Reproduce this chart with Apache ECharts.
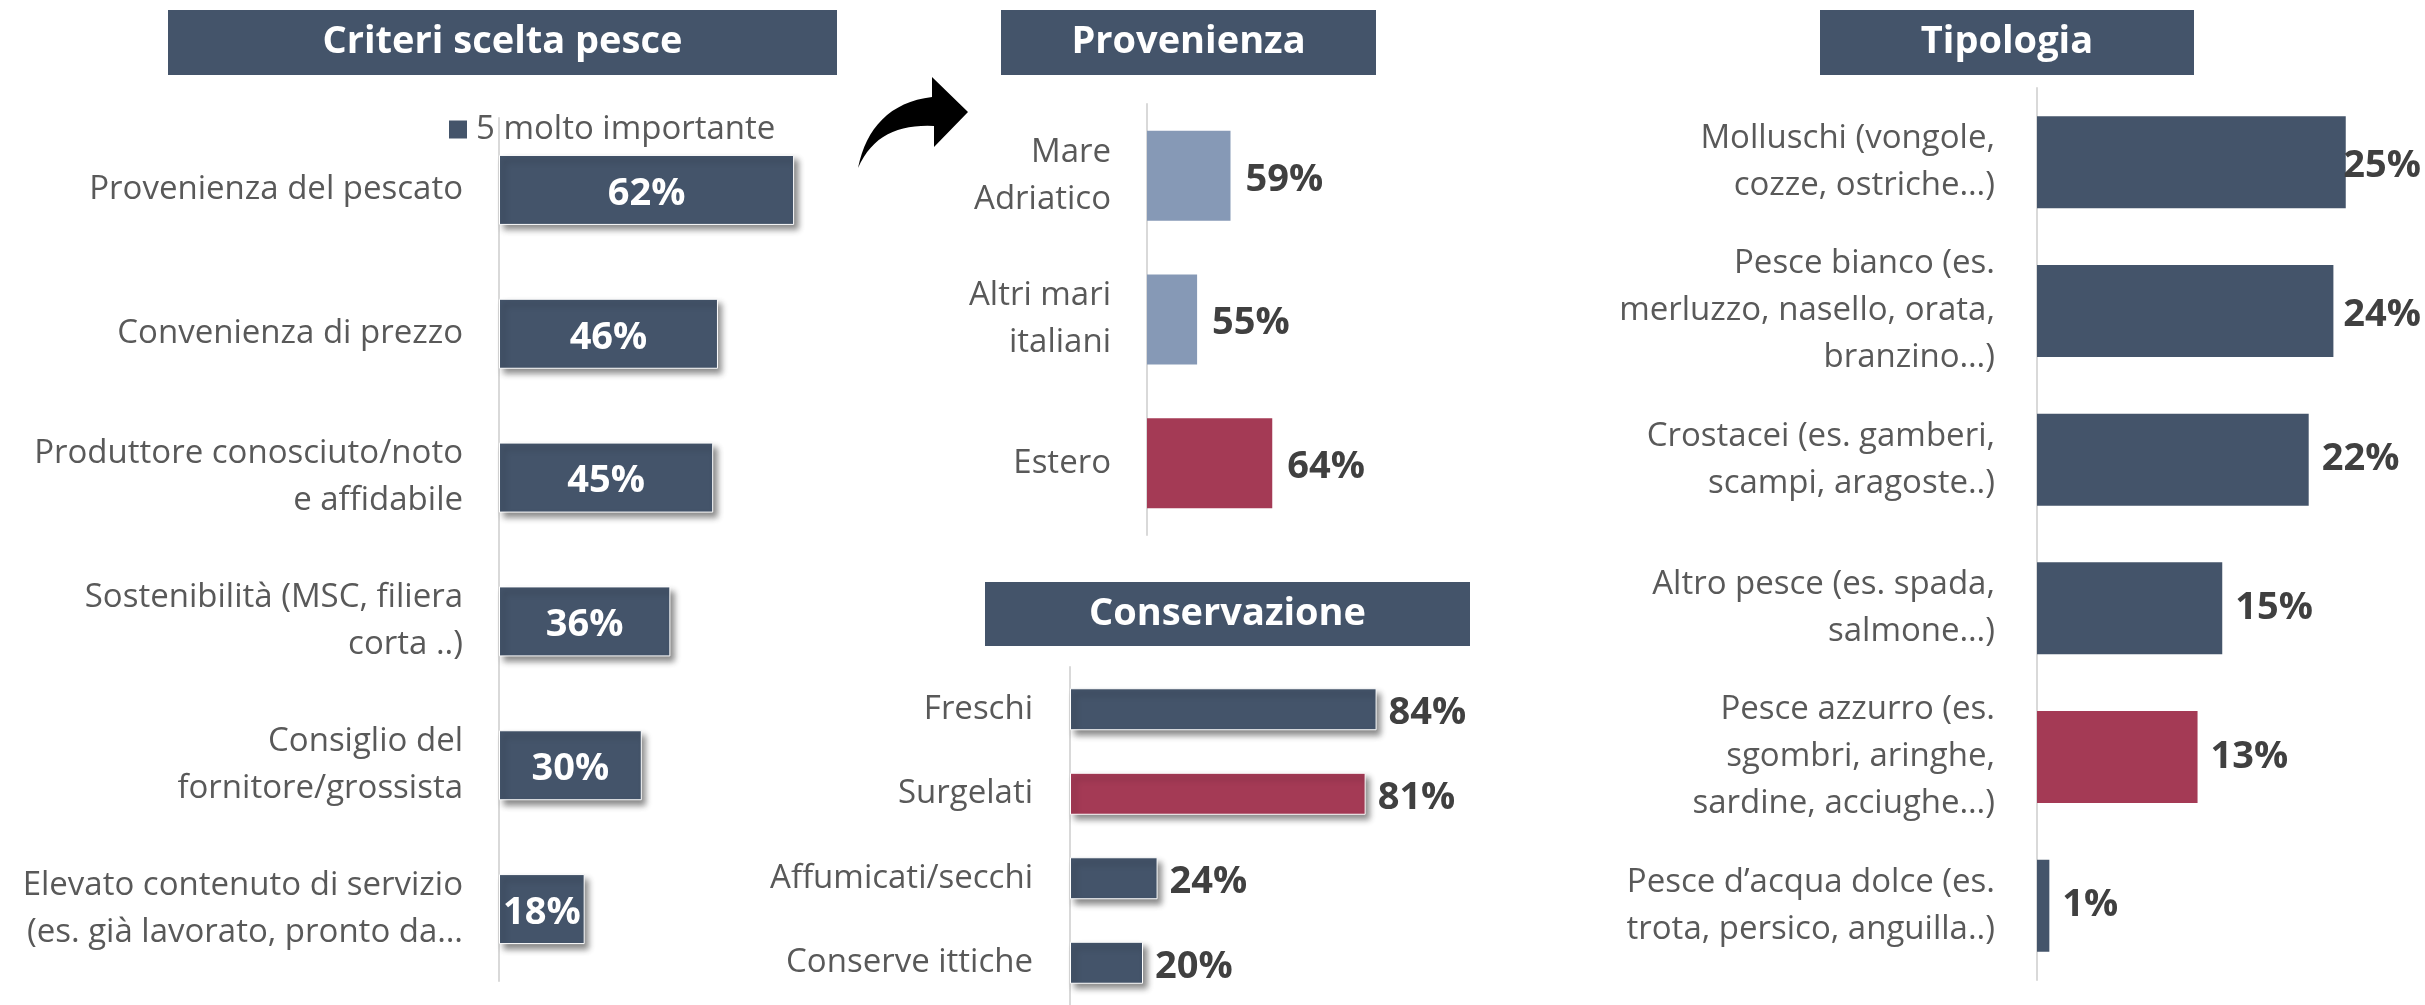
<!DOCTYPE html>
<html>
<head>
<meta charset="utf-8">
<title>Pesce</title>
<script src="https://cdn.jsdelivr.net/npm/echarts@6/dist/echarts.min.js"></script>
<style>
    html, body { margin: 0; padding: 0; background: #fff; }
    #chart { width: 2425px; height: 1005px; }
</style>
</head>
<body>
<div id="chart"></div>
<script>
// dati
const panelTitles = ['Criteri scelta pesce', 'Provenienza', 'Conservazione', 'Tipologia'];
const legendName = '5 molto importante';

const criteriCategories = [
    'Provenienza del pescato',
    'Convenienza di prezzo',
    'Produttore conosciuto/noto\ne affidabile',
    'Sostenibilità (MSC, filiera\ncorta ..)',
    'Consiglio del\nfornitore/grossista',
    'Elevato contenuto di servizio\n(es. già lavorato, pronto da…'
];
const criteriValues = [62, 46, 45, 36, 30, 18];

const provenienzaCategories = ['Mare\nAdriatico', 'Altri mari\nitaliani', 'Estero'];
const provenienzaValues = [59, 55, 64];

const conservazioneCategories = ['Freschi', 'Surgelati', 'Affumicati/secchi', 'Conserve ittiche'];
const conservazioneValues = [84, 81, 24, 20];

const tipologiaCategories = [
    'Molluschi (vongole,\ncozze, ostriche…)',
    'Pesce bianco (es.\nmerluzzo, nasello, orata,\nbranzino…)',
    'Crostacei (es. gamberi,\nscampi, aragoste..)',
    'Altro pesce (es. spada,\nsalmone…)',
    'Pesce azzurro (es.\nsgombri, aringhe,\nsardine, acciughe…)',
    'Pesce d’acqua dolce (es.\ntrota, persico, anguilla..)'
];
const tipologiaValues = [25, 24, 22, 15, 13, 1];

// categorie evidenziate in rosso
const evidenziate = ['Estero', 'Surgelati', 'Pesce azzurro (es.\nsgombri, aringhe,\nsardine, acciughe…)'];

const BLU = '#44546a';
const AZZURRO = '#8699b6';
const ROSSO = '#a43a55';
const FONT = '"Open Sans", sans-serif';

const chart = echarts.init(document.getElementById('chart'));

const grids = [
    { left: 499, top: 118, width: 476, height: 863 },
    { left: 1147, top: 104, width: 250.5, height: 431 },
    { left: 1070, top: 667, width: 365, height: 345 },
    { left: 2037, top: 88, width: 370.5, height: 892 }
];

const xRanges = [
    { min: 0, max: 100 },
    { min: 49, max: 79 },
    { min: 0, max: 100 },
    { min: 0, max: 30 }
];

const catLists = [criteriCategories, provenienzaCategories, conservazioneCategories, tipologiaCategories];
const labelMargins = [36, 36, 37, 42];

const makeYAxis = (i) => ({
    type: 'category',
    gridIndex: i,
    inverse: true,
    data: catLists[i],
    axisTick: { show: false },
    axisLine: { lineStyle: { color: '#d9d9d9', width: 2 } },
    axisLabel: {
        color: '#595959',
        fontFamily: FONT,
        fontSize: 33,
        lineHeight: 47,
        margin: labelMargins[i],
        align: 'right'
    }
});

const makeXAxis = (i) => ({
    type: 'value',
    gridIndex: i,
    min: xRanges[i].min,
    max: xRanges[i].max,
    show: false
});

const shadowStyle = {
    shadowBlur: 6,
    shadowColor: 'rgba(0,0,0,0.45)',
    shadowOffsetX: 4,
    shadowOffsetY: 5,
    borderColor: '#fff',
    borderWidth: 1
};

const outsideLabel = {
    show: true,
    position: 'right',
    distance: 15,
    offset: [0, 4],
    formatter: '{c}%',
    color: '#404040',
    fontFamily: FONT,
    fontWeight: 'bold',
    fontSize: 38
};

const colorFor = (base) => (p) => evidenziate.includes(p.name) ? ROSSO : base;

// titoli dei pannelli: riquadro + testo
const titleBoxes = [
    { x: 168, y: 10, w: 669, h: 65 },
    { x: 1001, y: 10, w: 375, h: 65 },
    { x: 985, y: 582, w: 485, h: 64 },
    { x: 1820, y: 10, w: 374, h: 65 }
];

const titleGraphics = [];
titleBoxes.forEach((b, i) => {
    titleGraphics.push({
        type: 'rect',
        shape: { x: b.x, y: b.y, width: b.w, height: b.h },
        style: { fill: BLU }
    });
    titleGraphics.push({
        type: 'text',
        x: b.x + b.w / 2,
        y: b.y + b.h / 2,
        style: {
            text: panelTitles[i],
            fill: '#fff',
            font: 'bold 38px "Open Sans", sans-serif',
            textAlign: 'center',
            textVerticalAlign: 'middle'
        }
    });
});

// freccia curva (poligono ricavato da due curve di Bézier)
const bez = (p0, p1, p2, p3, n) => {
    const pts = [];
    for (let k = 0; k <= n; k++) {
        const t = k / n, u = 1 - t;
        pts.push([
            u * u * u * p0[0] + 3 * u * u * t * p1[0] + 3 * u * t * t * p2[0] + t * t * t * p3[0],
            u * u * u * p0[1] + 3 * u * u * t * p1[1] + 3 * u * t * t * p2[1] + t * t * t * p3[1]
        ]);
    }
    return pts;
};
const arrowPoints = []
    .concat(bez([858, 168], [866, 128], [890, 102], [932, 97], 16))
    .concat([[932, 77], [968, 112], [934, 147], [934, 126]])
    .concat(bez([934, 126], [898, 124], [872, 136], [858, 168], 16));
titleGraphics.push({
    type: 'polygon',
    shape: { points: arrowPoints },
    style: { fill: '#000' }
});

chart.setOption({
    backgroundColor: '#fff',
    animation: false,
    textStyle: { fontFamily: FONT },
    legend: {
        data: [legendName],
        left: 444,
        top: 108,
        icon: 'rect',
        itemWidth: 18,
        itemHeight: 18,
        itemStyle: { borderWidth: 0, shadowBlur: 0, shadowOffsetX: 0, shadowOffsetY: 0 },
        textStyle: { color: '#595959', fontSize: 33, fontFamily: FONT, padding: [0, 0, 0, 4] }
    },
    grid: grids,
    xAxis: [0, 1, 2, 3].map(makeXAxis),
    yAxis: [0, 1, 2, 3].map(makeYAxis),
    graphic: titleGraphics,
    series: [
        {
            name: legendName,
            type: 'bar',
            xAxisIndex: 0,
            yAxisIndex: 0,
            barWidth: 70,
            data: criteriValues,
            itemStyle: Object.assign({ color: BLU }, shadowStyle),
            label: {
                show: true,
                position: 'inside',
                offset: [0, 4],
                formatter: '{c}%',
                color: '#fff',
                fontFamily: FONT,
                fontWeight: 'bold',
                fontSize: 38
            }
        },
        {
            name: 'Provenienza',
            type: 'bar',
            xAxisIndex: 1,
            yAxisIndex: 1,
            barWidth: 90,
            data: provenienzaValues,
            itemStyle: { color: colorFor(AZZURRO) },
            label: outsideLabel
        },
        {
            name: 'Conservazione',
            type: 'bar',
            xAxisIndex: 2,
            yAxisIndex: 2,
            barWidth: 42,
            data: conservazioneValues,
            itemStyle: Object.assign({ color: colorFor(BLU) }, shadowStyle),
            label: Object.assign({}, outsideLabel, { distance: 12 })
        },
        {
            name: 'Tipologia',
            type: 'bar',
            xAxisIndex: 3,
            yAxisIndex: 3,
            barWidth: 92,
            data: tipologiaValues,
            itemStyle: { color: colorFor(BLU) },
            label: Object.assign({}, outsideLabel, { distance: 13 }),
            // tiene le etichette dentro il bordo destro
            labelLayout: (params) => {
                const r = params.labelRect;
                if (r.x + r.width > 2421) {
                    return {
                        x: 2421 - r.width,
                        y: r.y + r.height / 2,
                        align: 'left',
                        verticalAlign: 'middle'
                    };
                }
                return {};
            }
        }
    ]
});
</script>
</body>
</html>
